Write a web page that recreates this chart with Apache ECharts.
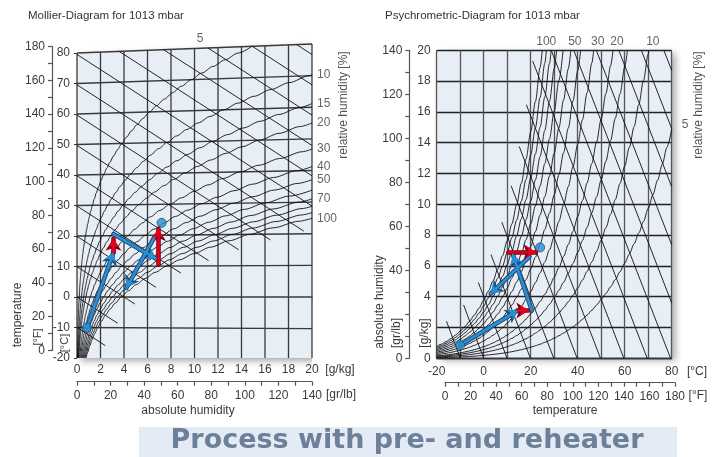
<!DOCTYPE html>
<html>
<head>
<meta charset="utf-8">
<script src="https://cdn.jsdelivr.net/npm/echarts@6/dist/echarts.min.js"></script>
<style>
  html, body { margin: 0; padding: 0; background: #ffffff; }
  #chart { width: 715px; height: 457px; }
</style>
</head>
<body>
<div id="chart"></div>
<script>
// ---- Air state data (1013 mbar) ----
const pressureHPa = 1013;
// Saturation vapour pressure over water [hPa] at the temperatures below [°C]
const satTemps = [-20, -18, -16, -14, -12, -10, -8, -6, -4, -2, 0, 2, 4, 6, 8, 10, 12, 14, 16, 18,
  20, 22, 24, 26, 28, 30, 32, 34, 36, 38, 40, 42, 44, 46, 48, 50, 52, 54, 56, 58,
  60, 62, 64, 66, 68, 70, 72, 74, 76, 78, 80];
const satPressures = [1.259, 1.490, 1.760, 2.076, 2.441, 2.865, 3.353, 3.909, 4.547, 5.275, 6.112, 7.060, 8.135, 9.350, 10.73, 12.28, 14.02, 15.99, 18.17, 20.64,
  23.39, 26.45, 29.85, 33.63, 37.82, 42.46, 47.59, 53.23, 59.45, 66.26, 73.78, 82.02, 91.06, 100.94, 111.74, 123.5, 136.2, 150.1, 165.1, 181.4,
  199.3, 218.4, 239.2, 261.5, 285.6, 311.8, 339.8, 369.9, 402.3, 437.0, 473.9];

// Chart families
const rhLevels = [5, 10, 15, 20, 30, 40, 50, 60, 70, 80, 90, 100];          // relative humidity [%]
const rhLabelsMollier = [5, 10, 15, 20, 30, 40, 50, 70, 100];
const rhLabelsPsychro = [5, 10, 20, 30, 50, 100];
const enthalpyLevels = [-10, 0, 10, 20, 30, 40, 50, 60, 70, 80, 90, 100, 110, 120, 130]; // kJ/kg
const isotherms = [-10, 0, 10, 20, 30, 40, 50, 60, 70, 80];                // °C
const humidityLines = [0, 2, 4, 6, 8, 10, 12, 14, 16, 18, 20];              // g/kg
const celsiusTicks = [-20, -10, 0, 10, 20, 30, 40, 50, 60, 70, 80];
const psychroMoistureLabels = [0, 4, 6, 8, 10, 12, 14, 16, 18, 20];          // g/kg (2 gives way to the unit)
const psychroGrainLabels = [0, 40, 60, 80, 100, 120, 140];                   // gr/lb (20 gives way to the unit)

// Process with pre- and reheater: states as [°C, g/kg]
const outsideAir = [-10, 0.85];
const roomAir = [24, 7.2];
const mixing = [[-10, 0.85], [14.5, 3.1]];
const preheater = [[14.5, 3.1], [19, 3.1]];
const humidifier = [[20.5, 3.1], [12.5, 6.7]];
const reheater = [[10.5, 6.9], [22, 6.9]];
const exhaust = [[19.5, 6.6], [3, 4.2]];

// ---- Psychrometric relations ----
const T_MIN = -20, T_MAX = 80, X_MAX = 20, FOG_EXT = 1.05;
function moisture(phi, ps) { return 622 * phi * ps / (pressureHPa - phi * ps); }
function skewY(t, x) { return t * (1 + 0.00186 * x / 1.006); }           // Mollier ordinate
function enthalpy(t, x) { return 1.006 * t + x * (2.501 + 0.00186 * t); }
function tempFromHX(h, x) { return (h - 2.501 * x) / (1.006 + 0.00186 * x); }

// relative humidity curve as [t, x] points, cut at the chart's top (x = 20 g/kg)
function rhCurve(phi) {
  const pts = [];
  for (let i = 0; i < satTemps.length; i++) {
    const t = satTemps[i], x = moisture(phi, satPressures[i]);
    if (x > X_MAX) {
      const [tp, xp] = pts[pts.length - 1];
      const f = (X_MAX - xp) / (x - xp);
      pts.push([tp + f * (t - tp), X_MAX]);
      break;
    }
    pts.push([t, x]);
  }
  return pts;
}
// moisture content where an enthalpy line meets the saturation curve
function saturationMoisture(h) {
  let prev = null;
  for (let i = 0; i < satTemps.length; i++) {
    const t = satTemps[i], x = moisture(1, satPressures[i]), hs = enthalpy(t, x);
    if (hs >= h) {
      if (!prev) return x;
      const f = (h - prev.h) / (hs - prev.h);
      return prev.x + f * (x - prev.x);
    }
    prev = { h: hs, x: x };
  }
  return Infinity;
}

const toMollier = p => [p[1], skewY(p[0], p[1])];
const toPsychro = p => [p[0], p[1]];

// ---- Styles ----
const FONT = "'Liberation Sans', Arial, sans-serif";
const TEXT = '#3a3a3a';
const PLOT_BG = '#e7eef6';
const gridStyle = { color: '#3a3a3a', width: 1.3 };
const curveStyle = { color: '#101010', width: 0.9 };
const labelStyle = { color: TEXT, fontSize: 12, fontFamily: FONT };

const series = [];
function addLine(points, style, axis, extra) {
  series.push(Object.assign({
    type: 'line', xAxisIndex: axis, yAxisIndex: axis, data: points,
    symbol: 'none', silent: true, lineStyle: style, z: 3
  }, extra || {}));
}

// ---- Mollier diagram (axis index 0) ----
// plot background bounded by the 80 °C isotherm
addLine([[0, skewY(T_MAX, 0)], [X_MAX, skewY(T_MAX, X_MAX)]], { width: 0 }, 0, {
  clip: false, z: 1,
  areaStyle: { origin: 'start', color: PLOT_BG, opacity: 1, shadowBlur: 7, shadowColor: 'rgba(0,0,0,0.35)', shadowOffsetX: 4, shadowOffsetY: 3 }
});
humidityLines.forEach(x => addLine([[x, -20], [x, skewY(T_MAX, x)]], gridStyle, 0));
isotherms.forEach(t => addLine([[0, t], [X_MAX, skewY(t, X_MAX)]], gridStyle, 0));
enthalpyLevels.forEach(h => {
  let start;
  if (h / 1.006 <= T_MAX) start = [0, h / 1.006];
  else {
    const x = (h - 1.006 * T_MAX) / (2.501 + 0.00186 * T_MAX);
    if (x > X_MAX) return;
    start = [x, skewY(T_MAX, x)];
  }
  const xe = Math.min(X_MAX, saturationMoisture(h) + FOG_EXT);
  addLine([start, [xe, (h - 2.501 * xe) / 1.006]], curveStyle, 0);
});
const mollierLabelData = [];
rhLevels.forEach(phi => {
  const pts = rhCurve(phi / 100).map(toMollier);
  addLine(pts, curveStyle, 0, { smooth: 0.3, smoothMonotone: 'x' });
  if (rhLabelsMollier.indexOf(phi) >= 0) {
    const end = pts[pts.length - 1];
    const item = { value: end, name: String(phi) };
    if (end[0] < X_MAX - 1e-6) item.label = { position: 'inside', offset: [-52, -8] };
    mollierLabelData.push(item);
  }
});
series.push({
  type: 'scatter', xAxisIndex: 0, yAxisIndex: 0, symbolSize: 0, silent: true, clip: false, z: 5,
  data: mollierLabelData,
  label: Object.assign({ show: true, position: 'right', distance: 5, formatter: p => p.name }, labelStyle)
});

// ---- Psychrometric diagram (axis index 3) ----
enthalpyLevels.forEach(h => {
  const x0 = Math.min(X_MAX, saturationMoisture(h) + FOG_EXT);
  const t0 = tempFromHX(h, x0);
  if (t0 > T_MAX) return;
  const t1 = Math.min(T_MAX, h / 1.006);
  const x1 = (h - 1.006 * t1) / (2.501 + 0.00186 * t1);
  addLine([[t0, x0], [t1, x1]], curveStyle, 3);
});
const psychroLabelData = [];
rhLevels.forEach(phi => {
  const pts = rhCurve(phi / 100).map(toPsychro);
  addLine(pts, curveStyle, 3, { smooth: 0.3, smoothMonotone: 'x' });
  if (rhLabelsPsychro.indexOf(phi) >= 0) {
    const end = pts[pts.length - 1];
    const item = { value: end, name: String(phi) };
    if (end[1] < X_MAX - 1e-6) item.label = { position: 'right', distance: 10, offset: [0, -4] };
    psychroLabelData.push(item);
  }
});
series.push({
  type: 'scatter', xAxisIndex: 3, yAxisIndex: 3, symbolSize: 0, silent: true, clip: false, z: 5,
  data: psychroLabelData,
  label: Object.assign({ show: true, position: 'top', distance: 3, offset: [4, 0], formatter: p => p.name }, labelStyle)
});

// ---- Process arrows and states on both diagrams ----
const BLUE = '#2b8fd2', BLUE_EDGE = '#1b4f80', RED = '#e3001b', RED_EDGE = '#7d0012';
function addArrows(segments, fill, edge, axis, map) {
  const data = segments.map(s => ({ coords: s.map(map) }));
  const base = { type: 'lines', coordinateSystem: 'cartesian2d', xAxisIndex: axis, yAxisIndex: axis, silent: true, symbol: ['none', 'arrow'], data: data };
  series.push(Object.assign({}, base, { symbolSize: [0, 12], lineStyle: { color: edge, width: 4.6, opacity: 1, cap: 'round' }, z: 20 }));
  series.push(Object.assign({}, base, { symbolSize: [0, 9], lineStyle: { color: fill, width: 2.6, opacity: 1, cap: 'round' }, z: 21 }));
}
[[0, toMollier], [3, toPsychro]].forEach(([axis, map]) => {
  addArrows([mixing, humidifier, exhaust], BLUE, BLUE_EDGE, axis, map);
  addArrows([preheater, reheater], RED, RED_EDGE, axis, map);
  series.push({
    type: 'scatter', xAxisIndex: axis, yAxisIndex: axis, silent: true, z: 22, symbolSize: 9,
    itemStyle: { color: BLUE, borderColor: BLUE_EDGE, borderWidth: 1 },
    data: [outsideAir, roomAir].map(map)
  });
});

// ---- Axes ----
const every20 = v => (v % 20 === 0 ? String(v) : '');
const scaleAxisLine = { show: true, lineStyle: { color: '#555', width: 1.2 } };
const scaleTicks = { show: true, length: 4, lineStyle: { color: '#555', width: 1.2 } };
const hidden = gi => ({ gridIndex: gi, type: 'value', show: false, min: 0, max: 1 });

const option = {
  animation: false,
  grid: [
    { left: 77, top: 40.8, width: 235, height: 317.2 },           // Mollier plot
    { left: 52, top: 46.5, width: 1, height: 304 },                // Mollier °F scale
    { left: 77, top: 380, width: 235, height: 1.7 },               // Mollier gr/lb scale
    { left: 436.7, top: 50.3, width: 235, height: 308, show: true, backgroundColor: PLOT_BG, borderWidth: 0,
      shadowBlur: 7, shadowColor: 'rgba(0,0,0,0.35)', shadowOffsetX: 4, shadowOffsetY: 3 }, // psychrometric plot
    { left: 409.3, top: 50.3, width: 1, height: 308 },             // psychrometric gr/lb scale
    { left: 445, top: 381, width: 230, height: 1.7 }               // psychrometric °F scale
  ],
  xAxis: [
    { gridIndex: 0, type: 'value', min: 0, max: 20, interval: 2,
      axisLine: { show: true, lineStyle: { color: '#333', width: 1.3 } }, axisTick: { show: false }, splitLine: { show: false },
      axisLabel: Object.assign({ margin: 6 }, labelStyle) },
    hidden(1),
    { gridIndex: 2, type: 'value', min: 0, max: 140, interval: 10, axisLine: scaleAxisLine, axisTick: scaleTicks,
      splitLine: { show: false }, axisLabel: Object.assign({ margin: 8, formatter: every20 }, labelStyle) },
    { gridIndex: 3, type: 'value', min: -20, max: 80, interval: 10,
      axisLine: { show: true, lineStyle: { color: '#333', width: 1.3 } }, axisTick: { show: false },
      splitLine: { show: true, lineStyle: { color: '#555', width: 1.3 } },
      axisLabel: Object.assign({ margin: 7, formatter: every20 }, labelStyle) },
    hidden(4),
    { gridIndex: 5, type: 'value', min: 0, max: 180, interval: 10, axisLine: scaleAxisLine, axisTick: scaleTicks,
      splitLine: { show: false }, axisLabel: Object.assign({ margin: 8, formatter: every20 }, labelStyle) }
  ],
  yAxis: [
    { gridIndex: 0, type: 'value', min: -20, max: 84, axisLine: { show: false },
      axisTick: { show: true, length: 3, customValues: celsiusTicks, lineStyle: { color: '#333' } },
      splitLine: { show: false },
      axisLabel: Object.assign({ margin: 7, customValues: celsiusTicks }, labelStyle) },
    { gridIndex: 1, type: 'value', min: 0, max: 180, interval: 10, axisLine: scaleAxisLine, axisTick: scaleTicks,
      splitLine: { show: false }, axisLabel: Object.assign({ margin: 7, formatter: every20 }, labelStyle) },
    hidden(2),
    { gridIndex: 3, type: 'value', min: 0, max: 20, interval: 2, axisLine: { show: false },
      axisTick: { show: true, length: 3, lineStyle: { color: '#333' } },
      splitLine: { show: true, lineStyle: { color: '#222', width: 1.3 } },
      axisLabel: Object.assign({ margin: 6, customValues: psychroMoistureLabels }, labelStyle) },
    { gridIndex: 4, type: 'value', min: 0, max: 140, interval: 10, axisLine: scaleAxisLine, axisTick: scaleTicks,
      splitLine: { show: false }, axisLabel: Object.assign({ margin: 7, customValues: psychroGrainLabels }, labelStyle) },
    hidden(5)
  ],
  series: series,
  graphic: []
};

// ---- Texts ----
function txt(text, x, y, opts) {
  opts = opts || {};
  const align = opts.align || 'center';
  option.graphic.push({
    type: 'text', x: x, y: y, rotation: opts.rotate ? Math.PI / 2 : 0, silent: true, z: 50,
    style: {
      text: text, fill: opts.color || TEXT, font: opts.font || ('12px ' + FONT),
      align: align, textAlign: align, verticalAlign: 'middle', textVerticalAlign: 'middle'
    }
  });
}
txt('Mollier-Diagram for 1013 mbar', 28, 16, { align: 'left', font: '11.5px ' + FONT, color: '#333' });
txt('Psychrometric-Diagram for 1013 mbar', 385, 16, { align: 'left', font: '11.5px ' + FONT, color: '#333' });
// Mollier captions
txt('temperature', 18, 315, { rotate: true });
txt('[°F]', 38, 337, { rotate: true, font: '11px ' + FONT });
txt('[°C]', 65, 343, { rotate: true, font: '11px ' + FONT });
txt('[g/kg]', 340, 370);
txt('[gr/lb]', 341, 395);
txt('absolute humidity', 188, 411);
txt('relative humidity [%]', 344, 105, { rotate: true, color: '#555' });
// psychrometric captions
txt('absolute humidity', 380, 302, { rotate: true });
txt('[gr/lb]', 397, 333, { rotate: true });
txt('[g/kg]', 425, 333, { rotate: true });
txt('[°C]', 697, 372);
txt('[°F]', 698, 396);
txt('temperature', 565, 411);
txt('relative humidity [%]', 699, 105, { rotate: true, color: '#555' });
// banner
option.graphic.push({ type: 'rect', silent: true, z: 40, shape: { x: 139, y: 427, width: 538, height: 30 }, style: { fill: '#e4ebf4' } });
txt('Process with pre- and reheater', 407, 441, { font: 'bold 27px "DejaVu Sans", sans-serif', color: '#6c8099' });

const chart = echarts.init(document.getElementById('chart'), null, { renderer: 'canvas' });
chart.setOption(option);
</script>
</body>
</html>
